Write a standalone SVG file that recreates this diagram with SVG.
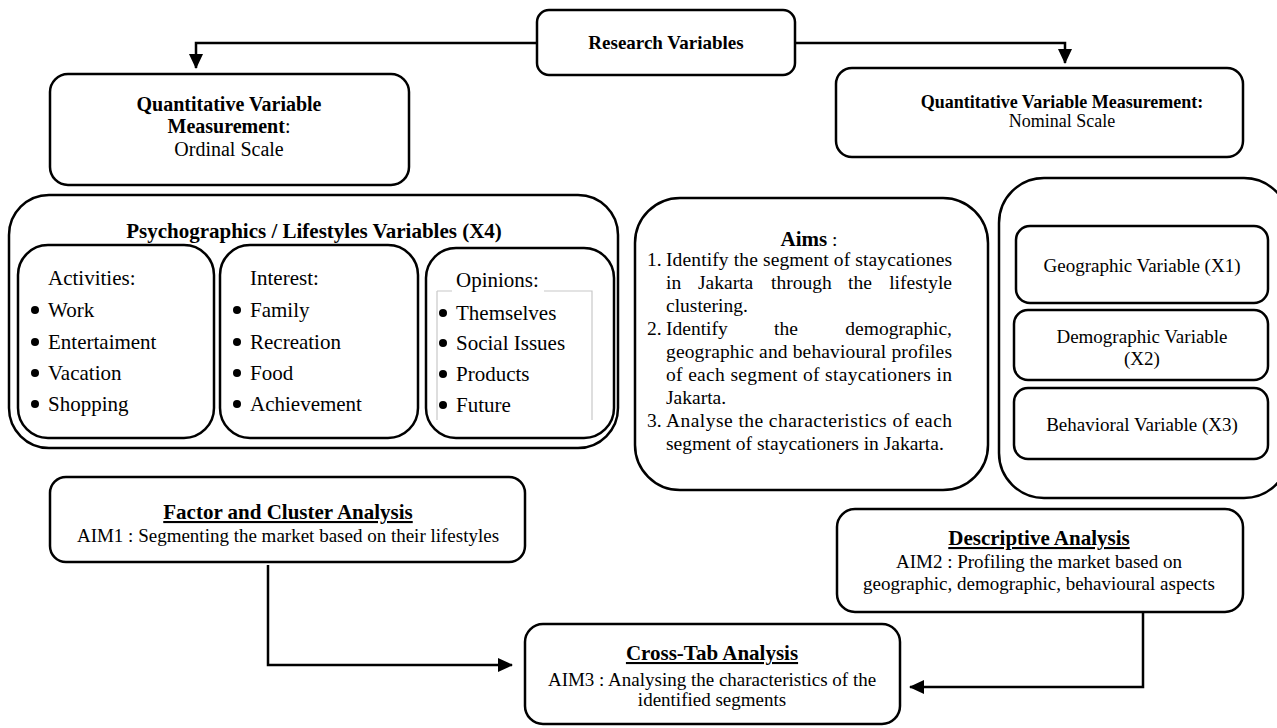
<svg xmlns="http://www.w3.org/2000/svg" width="1277" height="728" viewBox="0 0 1277 728">
<style>
.box{fill:#fff;stroke:#000;stroke-width:2.5}
.t{font-family:"Liberation Serif","Times New Roman",serif;fill:#000}
.b{font-weight:bold}
.c{text-anchor:middle}
.e{text-anchor:end}
.u{text-decoration:underline}
.con{fill:none;stroke:#000;stroke-width:2.5}
.grey{fill:none;stroke:#c8c8c8;stroke-width:1.2}
</style>
<defs>
<marker id="ah" markerUnits="userSpaceOnUse" markerWidth="16" markerHeight="16" viewBox="0 0 16 16" refX="14" refY="8" orient="auto">
<path d="M0,1 L15,8 L0,15 Z" fill="#000"/>
</marker>
</defs>
<rect width="1277" height="728" fill="#fff"/>

<g id="connectors">
<path class="con" d="M537,43 H196 V68" marker-end="url(#ah)"/>
<path class="con" d="M795,43 H1065 V63" marker-end="url(#ah)"/>
<path class="con" d="M268,565 V665 H512" marker-end="url(#ah)"/>
<path class="con" d="M1143,612 V687 H910" marker-end="url(#ah)"/>
</g>

<g id="research-variables">
<rect class="box" x="537" y="10" width="258" height="65" rx="12"/>
<text class="t b c" x="666" y="49" font-size="19">Research Variables</text>
</g>

<g id="quant-ordinal">
<rect class="box" x="50" y="74" width="359" height="111" rx="18"/>
<text class="t b c" x="229" y="111" font-size="20">Quantitative Variable</text>
<text class="t c" x="229" y="133" font-size="20"><tspan class="b">Measurement</tspan>:</text>
<text class="t c" x="229" y="156" font-size="20">Ordinal Scale</text>
</g>

<g id="quant-nominal">
<rect class="box" x="836" y="68" width="407" height="89" rx="16"/>
<text class="t b c" x="1062" y="108" font-size="18">Quantitative Variable Measurement:</text>
<text class="t c" x="1062" y="127" font-size="18">Nominal Scale</text>
</g>

<g id="psychographics">
<rect class="box" x="9" y="195" width="609" height="253" rx="40"/>
<text class="t b c" x="314" y="238" font-size="21">Psychographics / Lifestyles Variables (X4)</text>
</g>

<g id="activities">
<rect class="box" x="18" y="245" width="196" height="193" rx="30"/>
<g class="t" font-size="21">
<text x="48" y="285">Activities:</text>
<circle cx="35" cy="310" r="4"/><text x="48" y="317">Work</text>
<circle cx="35" cy="342" r="4"/><text x="48" y="349">Entertaiment</text>
<circle cx="35" cy="373" r="4"/><text x="48" y="380">Vacation</text>
<circle cx="35" cy="404" r="4"/><text x="48" y="411">Shopping</text>
</g>
</g>

<g id="interest">
<rect class="box" x="220" y="245" width="198" height="193" rx="30"/>
<g class="t" font-size="21">
<text x="250" y="285">Interest:</text>
<circle cx="237" cy="310" r="4"/><text x="250" y="317">Family</text>
<circle cx="237" cy="342" r="4"/><text x="250" y="349">Recreation</text>
<circle cx="237" cy="373" r="4"/><text x="250" y="380">Food</text>
<circle cx="237" cy="404" r="4"/><text x="250" y="411">Achievement</text>
</g>
</g>

<g id="opinions">
<rect class="box" x="426" y="248" width="188" height="190" rx="30"/>
<path class="grey" d="M437,291 H452 M544,291 H592 V420 M437,291 V420"/>
<g class="t" font-size="21">
<text x="456" y="287">Opinions:</text>
<circle cx="443" cy="313" r="4"/><text x="456" y="320">Themselves</text>
<circle cx="443" cy="343" r="4"/><text x="456" y="350">Social Issues</text>
<circle cx="443" cy="374" r="4"/><text x="456" y="381">Products</text>
<circle cx="443" cy="405" r="4"/><text x="456" y="412">Future</text>
</g>
</g>

<g id="aims">
<rect class="box" x="635" y="198" width="353" height="292" rx="45"/>
<g class="t" font-size="19.5">
<text class="c" x="809" y="246"><tspan class="b" font-size="21">Aims</tspan> :</text>
<text x="647" y="266">1.</text>
<text x="666" y="266" textLength="286" lengthAdjust="spacing">Identify the segment of staycationes</text>
<text x="666" y="289">in</text><text x="698" y="289">Jakarta</text><text x="771" y="289">through</text><text x="848" y="289">the</text><text class="e" x="952" y="289">lifestyle</text>
<text x="666" y="312">clustering.</text>
<text x="647" y="335">2.</text>
<text x="666" y="335">Identify</text><text class="c" x="786" y="335">the</text><text class="e" x="952" y="335">demographic,</text>
<text x="666" y="358" textLength="286" lengthAdjust="spacing">geographic and behavioural profiles</text>
<text x="666" y="381" textLength="286" lengthAdjust="spacing">of each segment of staycationers in</text>
<text x="666" y="404">Jakarta.</text>
<text x="647" y="427">3.</text>
<text x="666" y="427" textLength="286" lengthAdjust="spacing">Analyse the characteristics of each</text>
<text x="666" y="450">segment of staycationers in Jakarta.</text>
</g>
</g>

<g id="variables-group">
<rect class="box" x="999" y="178" width="290" height="320" rx="45"/>
</g>
<g id="geographic">
<rect class="box" x="1016" y="226" width="252" height="77" rx="14"/>
<text class="t c" x="1142" y="272" font-size="19">Geographic Variable (X1)</text>
</g>
<g id="demographic">
<rect class="box" x="1014" y="310" width="254" height="70" rx="14"/>
<text class="t c" x="1142" y="343" font-size="19">Demographic Variable</text>
<text class="t c" x="1142" y="365" font-size="19">(X2)</text>
</g>
<g id="behavioral">
<rect class="box" x="1014" y="388" width="254" height="71" rx="14"/>
<text class="t c" x="1142" y="431" font-size="19">Behavioral Variable (X3)</text>
</g>

<g id="factor-cluster">
<rect class="box" x="50" y="477" width="475" height="85" rx="16"/>
<text class="t b c u" x="288" y="519" font-size="21">Factor and Cluster Analysis</text>
<text class="t c" x="288" y="542" font-size="19">AIM1 : Segmenting the market based on their lifestyles</text>
</g>

<g id="descriptive">
<rect class="box" x="837" y="509" width="406" height="103" rx="18"/>
<text class="t b c u" x="1039" y="545" font-size="21">Descriptive Analysis</text>
<text class="t c" x="1039" y="568" font-size="19">AIM2 : Profiling the market based on</text>
<text class="t c" x="1039" y="590" font-size="19">geographic, demographic, behavioural aspects</text>
</g>

<g id="cross-tab">
<rect class="box" x="525" y="624" width="375" height="100" rx="18"/>
<text class="t b c u" x="712" y="660" font-size="21">Cross-Tab Analysis</text>
<text class="t c" x="712" y="686" font-size="19">AIM3 : Analysing the characteristics of the</text>
<text class="t c" x="712" y="706" font-size="19">identified segments</text>
</g>
</svg>
